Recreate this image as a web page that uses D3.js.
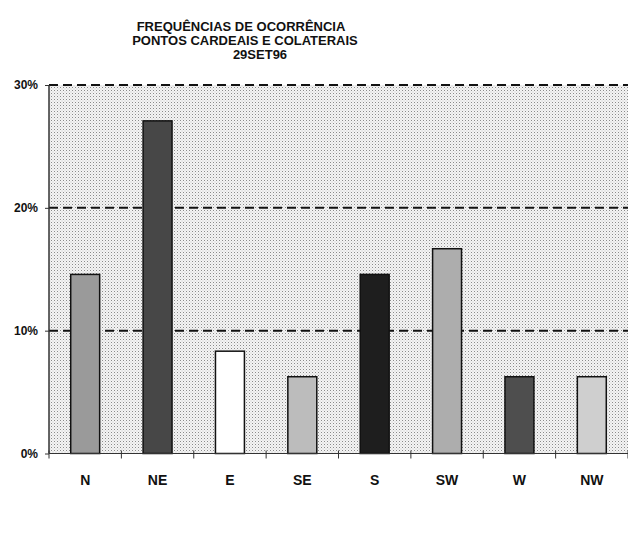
<!DOCTYPE html>
<html><head><meta charset="utf-8">
<script src="https://cdn.jsdelivr.net/npm/d3@7"></script>
<style>body{margin:0;background:#fff}svg{display:block}</style>
</head><body>
<svg id="c" width="628" height="551"></svg>
<script>
const titleLines = ["FREQUÊNCIAS DE OCORRÊNCIA", "PONTOS CARDEAIS E COLATERAIS", "29SET96"];
const categories = ["N", "NE", "E", "SE", "S", "SW", "W", "NW"];
const values = [14.58, 27.08, 8.33, 6.25, 14.58, 16.67, 6.25, 6.25];
const barColors = ["#9a9a9a", "#474747", "#ffffff", "#bcbcbc", "#1e1e1e", "#adadad", "#4e4e4e", "#cfcfcf"];
const yTicks = [0, 10, 20, 30];

(function () {
const svg = d3.select("#c");
const pL = 49, pR = 628, pT = 85, pB = 453.5;
const x = d3.scaleBand().domain(categories).range([pL, pR]).padding(0);
const y = d3.scaleLinear().domain([0, 30]).range([pB, pT]);

const defs = svg.append("defs");
const pat = defs.append("pattern").attr("id", "dots").attr("width", 3).attr("height", 3)
  .attr("patternUnits", "userSpaceOnUse");
pat.append("rect").attr("width", 3).attr("height", 3).attr("fill", "#f4f4f4");
pat.append("rect").attr("x", 0).attr("y", 0).attr("width", 1).attr("height", 1).attr("fill", "#8a8a8a");
pat.append("rect").attr("x", 1.5).attr("y", 1.5).attr("width", 1).attr("height", 1).attr("fill", "#c4c4c4");

svg.append("rect").attr("x", pL).attr("y", pT).attr("width", pR - pL).attr("height", pB - pT)
  .attr("fill", "url(#dots)");

const tx = [241, 245, 260];
svg.append("g").selectAll("text").data(titleLines).join("text")
  .attr("x", (d, i) => tx[i]).attr("y", (d, i) => 31 + i * 14)
  .attr("text-anchor", "middle")
  .attr("font-family", "Liberation Sans, Arial, sans-serif")
  .attr("font-weight", "bold").attr("font-size", 13).attr("fill", "#111")
  .text(d => d);

svg.append("g").selectAll("line").data(yTicks.filter(d => d > 0)).join("line")
  .attr("x1", pL).attr("x2", pR).attr("y1", d => y(d)).attr("y2", d => y(d))
  .attr("stroke", "#111").attr("stroke-width", 2).attr("stroke-dasharray", "9,5");

const bw = x.bandwidth() * 0.4;
svg.append("g").selectAll("rect").data(categories).join("rect")
  .attr("x", d => x(d) + x.bandwidth() / 2 - bw / 2)
  .attr("y", (d, i) => y(values[i]))
  .attr("width", bw)
  .attr("height", (d, i) => y(0) - y(values[i]))
  .attr("fill", (d, i) => barColors[i])
  .attr("stroke", "#111").attr("stroke-width", 1.5);

const yAxis = svg.append("g").attr("transform", `translate(${pL},0)`)
  .call(d3.axisLeft(y).tickValues(yTicks).tickSize(4).tickFormat(d => d + "%"));
yAxis.select(".domain").attr("stroke", "#333").attr("stroke-width", 1.5).attr("d", `M0,${pT}V${pB}`);
yAxis.selectAll(".tick line").attr("stroke", "#333");
yAxis.selectAll(".tick text").attr("x", -11)
  .attr("font-family", "Liberation Sans, Arial, sans-serif").attr("font-weight", "bold")
  .attr("font-size", 12).attr("fill", "#111");

const xAxis = svg.append("g").attr("transform", `translate(0,${pB})`)
  .call(d3.axisBottom(x).tickSize(0).tickPadding(22));
xAxis.select(".domain").attr("stroke", "#333").attr("stroke-width", 1.2).attr("d", `M${pL},0H${pR}`);
xAxis.selectAll(".tick text")
  .attr("font-family", "Liberation Sans, Arial, sans-serif").attr("font-weight", "bold")
  .attr("font-size", 14).attr("fill", "#111");
const bounds = categories.map(c => x(c)).concat([pR]);
xAxis.append("g").selectAll("line").data(bounds).join("line")
  .attr("x1", d => d).attr("x2", d => d).attr("y1", -3).attr("y2", 5)
  .attr("stroke", "#333").attr("stroke-width", 1);
})();
</script>
</body></html>
